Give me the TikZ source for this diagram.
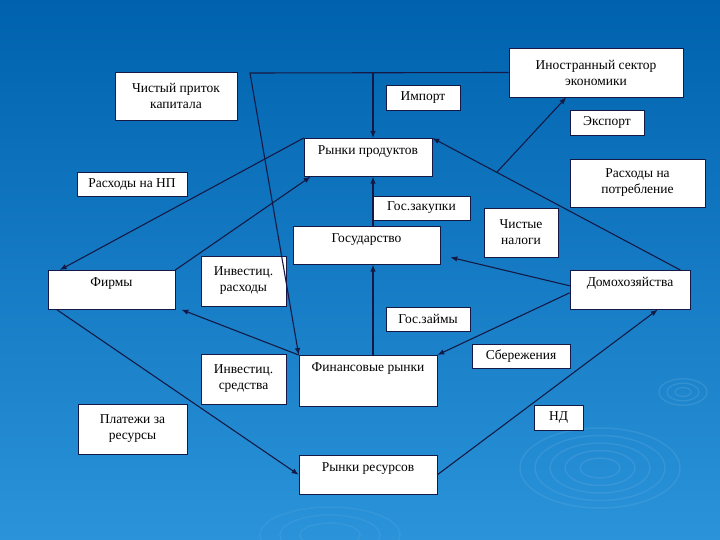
\documentclass[tikz,border=0pt]{standalone}
\usepackage{fontspec}
\setmainfont{Liberation Serif}
\usetikzlibrary{arrows.meta,positioning,calc}
\definecolor{slidetop}{HTML}{0062AE}
\definecolor{slidebot}{HTML}{2A93D9}
\definecolor{flowline}{HTML}{141A45}

\begin{document}
\begin{tikzpicture}[x=1pt, y=-1pt,
  font=\fontsize{13.5}{16}\selectfont,
  box/.style={draw=flowline, fill=white, line width=0.6pt, align=center, inner sep=2pt},
  market/.style={box, anchor=north, inner sep=4pt, text height=12pt, text depth=#1},
  arr/.style={-{Latex[length=7pt,width=5.5pt]}, line width=1.1pt, draw=flowline}
]
% slide background
\shade[top color=slidetop, bottom color=slidebot] (0,0) rectangle (720,540);
\useasboundingbox (0,0) rectangle (720,540);
\foreach \r in {20,35,50,65,80}
  \draw[white, opacity=0.08, line width=1.5pt] (600,468) ellipse ({\r} and {\r*0.5});
\foreach \r in {8,16,24}
  \draw[white, opacity=0.10, line width=1.2pt] (683,392) ellipse ({\r} and {\r*0.55});
\foreach \r in {30,50,70}
  \draw[white, opacity=0.06, line width=1.5pt] (330,535) ellipse ({\r} and {\r*0.4});

% sectors and markets
\node[box, minimum width=174pt, minimum height=49pt] (foreign) at (596,72.5)
  {Иностранный сектор\\экономики};
\node[market=18pt, minimum width=128pt] (products) at (368,138) {Рынки продуктов};
\node[market=18pt, minimum width=147pt] (gov) at (366.5,226) {Государство};
\node[market=19pt, minimum width=127pt] (firms) at (111.5,270) {Фирмы};
\node[market=19pt, minimum width=120pt] (house) at (630,270) {Домохозяйства};
\node[market=31pt, minimum width=138pt] (finmkt) at (368,355) {Финансовые рынки};
\node[market=19pt, minimum width=138pt] (resmkt) at (368,455) {Рынки ресурсов};

% flow labels
\node[box, minimum width=122pt, minimum height=48pt] (inflow) at (176,96) {Чистый приток\\капитала};
\node[box, minimum width=74pt, minimum height=25pt] (import) at (423,97.5) {Импорт};
\node[box, minimum width=74pt, minimum height=25pt] (export) at (607,122.5) {Экспорт};
\node[box, minimum width=110pt, minimum height=24pt] (npspend) at (132,184) {Расходы на НП};
\node[box, minimum width=135pt, minimum height=48pt] (consspend) at (637.5,183) {Расходы на\\потребление};
\node[box, minimum width=97pt, minimum height=24pt] (govbuy) at (421.5,208) {Гос.закупки};
\node[box, minimum width=74pt, minimum height=49pt] (taxes) at (521,232.5) {Чистые\\налоги};
\node[box, minimum width=85pt, minimum height=50pt] (invspend) at (243.5,281) {Инвестиц.\\расходы};
\node[box, minimum width=84pt, minimum height=24pt] (govloan) at (428,319) {Гос.займы};
\node[box, minimum width=98pt, minimum height=24pt] (savings) at (521,356) {Сбережения};
\node[box, minimum width=85pt, minimum height=50pt] (invfunds) at (243.5,379) {Инвестиц.\\средства};
\node[box, minimum width=109pt, minimum height=50pt] (payments) at (132.5,429) {Платежи за\\ресурсы};
\node[box, minimum width=49pt, minimum height=25pt] (nd) at (558.5,417.5) {НД};

% import and capital inflow
\coordinate (capjoin) at (250,73);
\coordinate (impjoin) at (373,73);
\draw[arr] (foreign.west) -- (capjoin) -- (finmkt.north west);
\draw[arr] (impjoin) -- (impjoin |- products.north);
% consumption and export
\draw[arr] ([xshift=-10pt]house.north east) -- (products.north east);
\coordinate (expsplit) at ($([xshift=-10pt]house.north east)!0.74!(products.north east)$);
\draw[arr] (expsplit) -- ($(foreign.south west)!0.33!(foreign.south east)$);
% firms and product market
\draw[arr] (products.north west) -- ([xshift=12pt]firms.north west);
\draw[arr] (firms.north east) -- ([xshift=7pt]products.south west);
% government
\draw[arr] (gov.north -| impjoin) -- (products.south -| impjoin);
\draw[arr] ([yshift=4pt]house.west) -- ([xshift=10pt,yshift=-12pt]gov.east);
\draw[arr] (finmkt.north -| impjoin) -- (gov.south -| impjoin);
% financial markets
\draw[arr] (finmkt.north west) -- ([xshift=6pt]firms.south east);
\draw[arr] ([yshift=-3pt]house.west) -- (finmkt.north east);
% resource market
\draw[arr] ([xshift=9pt]firms.south west) -- (resmkt.west);
\draw[arr] (resmkt.east) -- ($(house.south west)!0.73!(house.south east)$);
\end{tikzpicture}
\end{document}
